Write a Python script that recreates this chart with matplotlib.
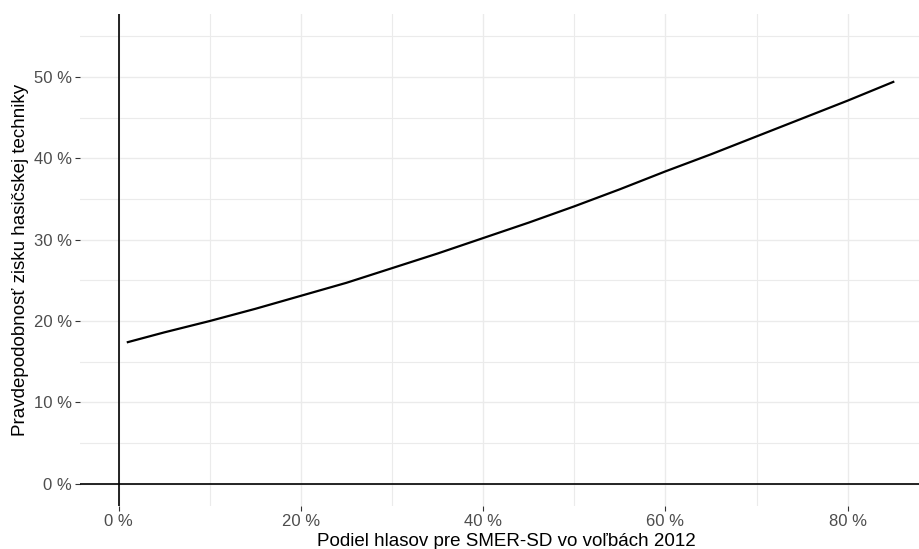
#%%imports
import matplotlib
matplotlib.use("Agg")
import matplotlib.pyplot as plt
import matplotlib.ticker as mticker

plt.rcParams["font.family"] = ["Liberation Sans", "DejaVu Sans"]

#%%data
vote_share = [0.01, 0.05, 0.10, 0.15, 0.20, 0.25, 0.30, 0.35, 0.40, 0.45,
              0.50, 0.55, 0.60, 0.65, 0.70, 0.75, 0.80, 0.85]                  #SMER-SD share
prob_equip = [0.174, 0.186, 0.200, 0.215, 0.231, 0.247, 0.265, 0.283, 0.302, 0.321,
              0.341, 0.362, 0.384, 0.405, 0.427, 0.449, 0.471, 0.494]
x_major = [0.0, 0.2, 0.4, 0.6, 0.8]
x_minor = [0.1, 0.3, 0.5, 0.7]
y_major = [0.0, 0.1, 0.2, 0.3, 0.4, 0.5]
y_minor = [0.05, 0.15, 0.25, 0.35, 0.45, 0.55]
xlabel = "Podiel hlasov pre SMER-SD vo voľbách 2012"
ylabel = "Pravdepodobnosť zisku hasičskej techniky"

#%%plot
W, H = 919, 549
fig = plt.figure(figsize=(W/100, H/100), dpi=100)
#panel in pixels: left 80, right 932 (cropped by figure), top 14, bottom 506
ax = fig.add_axes([80/W, (H-506)/H, (932-80)/W, (506-14)/H])

ax.set_xlim(-0.0425, 0.8925)
ax.set_ylim(-0.0275, 0.5775)

ax.set_xticks(x_major)
ax.set_xticks(x_minor, minor=True)
ax.set_yticks(y_major)
ax.set_yticks(y_minor, minor=True)
fmt = mticker.FuncFormatter(lambda v, p: f"{v*100:.0f} %")
ax.xaxis.set_major_formatter(fmt)
ax.yaxis.set_major_formatter(fmt)

ax.grid(which="major", color="#EBEBEB", lw=1.0)
ax.grid(which="minor", color="#EBEBEB", lw=0.8)
ax.set_axisbelow(True)
for s in ax.spines.values():
    s.set_visible(False)

ax.tick_params(which="major", length=3.5, width=0.8, color="#333333", labelcolor="#4D4D4D",
               labelsize=12, pad=2.5)
ax.tick_params(which="minor", length=0)

#reference lines at zero
ax.axhline(0, color="black", lw=1.2)
ax.axvline(0, color="black", lw=1.2)

ax.plot(vote_share, prob_equip, color="black", lw=1.6)

ax.set_xlabel(xlabel, fontsize=13.5, color="black", labelpad=2.5)
ax.set_ylabel(ylabel, fontsize=13.5, color="black", labelpad=3)

fig.savefig("out.png", dpi=100, facecolor="white")
